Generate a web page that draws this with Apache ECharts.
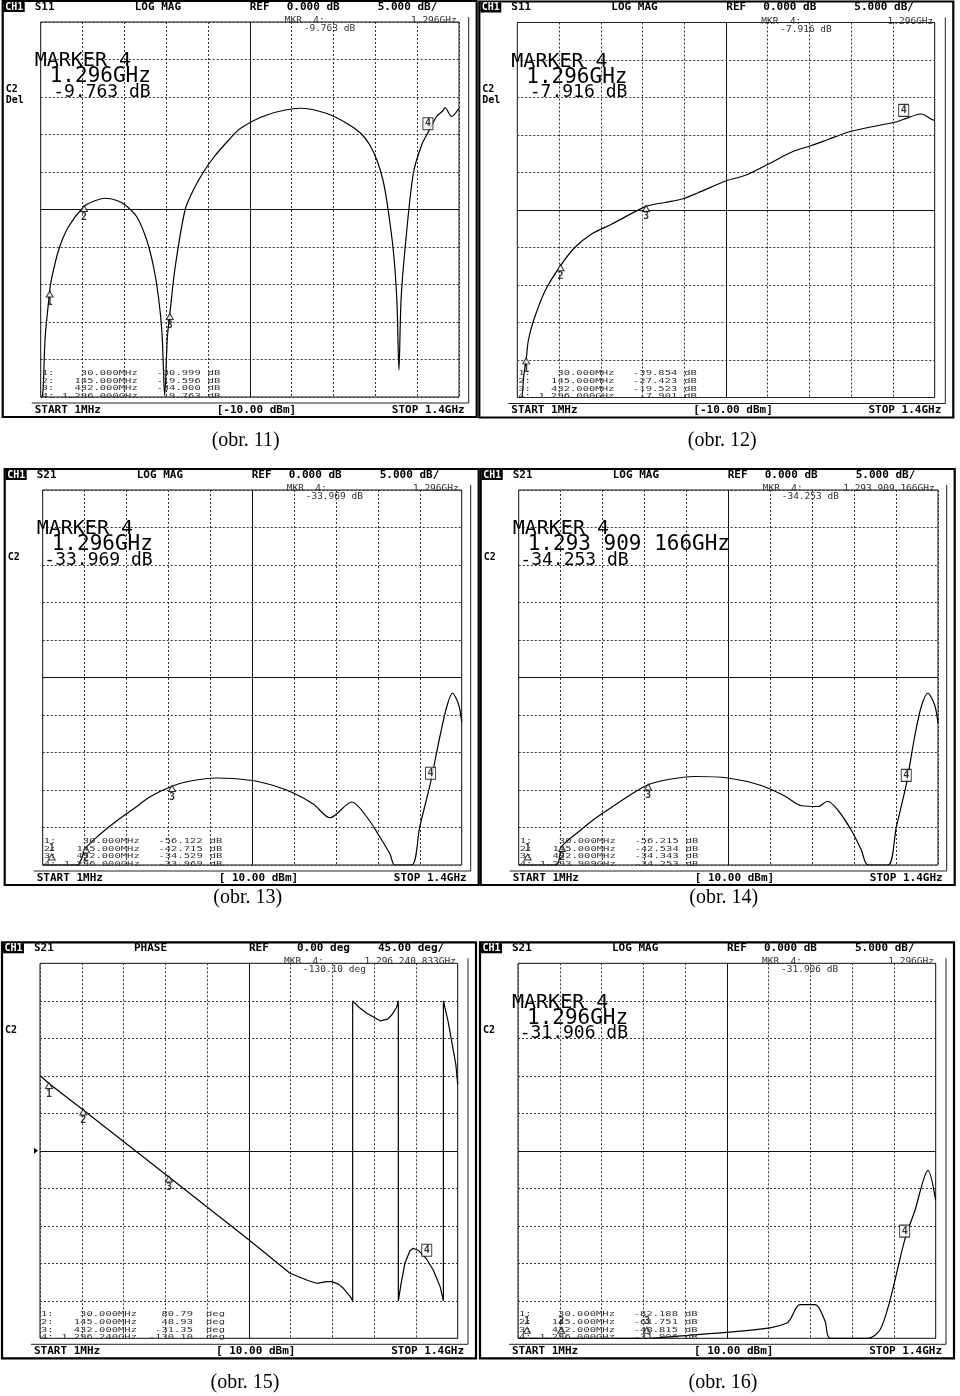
<!DOCTYPE html>
<html><head><meta charset="utf-8">
<script src="https://cdn.jsdelivr.net/npm/echarts@6/dist/echarts.min.js"></script>
<style>html,body{margin:0;padding:0;background:#fff}#c{width:960px;height:1396px}</style>
</head><body><div id="c"></div>
<script>
// ================= DATA (frequency MHz, displayed value) =================
const freqMin = 0, freqMax = 1400, freqStep = 140;
const dbMin = -45, dbMax = 5, dbStep = 5, dbRef = -20;
const degMin = -225, degMax = 225, degStep = 45, degRef = 0;

const obr11Trace = [[1,-46],[8,-44],[15,-37],[30,-31],[35,-29.5],[60,-25.4],[93,-22.3],[145,-19.6],[177,-18.9],[216,-18.5],[255,-18.8],[283,-19.4],[322,-21],[355,-24.1],[378,-27.7],[394,-31.6],[406,-36.5],[415,-44.8],[424,-37],[432,-34],[450,-27.7],[483,-20.1],[511,-17.4],[545,-15],[580,-13],[628,-10.8],[668,-9.2],[757,-7.4],[869,-6.5],[958,-7.2],[1024,-8.5],[1070,-9.8],[1100,-11.3],[1125,-13.4],[1145,-16],[1160,-19.3],[1180,-25.4],[1192,-32.1],[1199,-41.4],[1206,-32.1],[1219,-25.4],[1247,-15.2],[1275,-11.4],[1296,-9.76],[1325,-7.6],[1347,-6.8],[1353,-6.4],[1375,-7.6],[1400,-6.5]];
const obr11Markers = [[30,-30.999],[145,-19.596],[432,-34.000],[1296,-9.763]];

const obr12Trace = [[1,-46],[7,-45],[14,-45],[22,-42],[30,-39.85],[37,-37.4],[54,-34.8],[93,-30.8],[145,-27.42],[193,-25],[249,-23.2],[316,-21.9],[432,-19.52],[495,-19],[556,-18.5],[606,-17.7],[701,-16.1],[763,-15.4],[841,-13.9],[919,-12.3],[986,-11.4],[1042,-10.6],[1120,-9.5],[1266,-8.3],[1296,-7.9],[1355,-7.2],[1389,-7.9],[1400,-8.1]];
const obr12Markers = [[30,-39.854],[145,-27.423],[432,-19.523],[1296,-7.916]];

const obr13Trace = [[1,-45],[30,-45],[114,-45],[145,-42.7],[192,-40.9],[248,-39.1],[304,-37.5],[359,-35.9],[432,-34.5],[493,-33.8],[582,-33.4],[694,-33.7],[771,-34.4],[838,-35.4],[905,-36.9],[960,-38.7],[1033,-36.6],[1083,-38.6],[1127,-41.3],[1160,-43.5],[1177,-45],[1233,-45],[1260,-39.9],[1296,-33.97],[1327,-27.9],[1350,-23.9],[1369,-22.1],[1389,-23.5],[1400,-25.9]];
const obr13Markers = [[30,-56.122],[145,-42.715],[432,-34.529],[1296,-33.969]];

const obr14Trace = [[1,-45],[30,-45],[125,-45],[145,-42.5],[199,-40.6],[255,-38.8],[310,-37.3],[371,-35.7],[432,-34.3],[499,-33.6],[588,-33.2],[699,-33.4],[810,-34.4],[888,-35.8],[944,-37.1],[1000,-37.2],[1031,-36.5],[1066,-37.7],[1111,-40.4],[1144,-43],[1166,-45],[1233,-45],[1261,-39.9],[1294,-34.25],[1322,-27.9],[1344,-23.9],[1366,-22.1],[1389,-23.7],[1400,-26.1]];
const obr14Markers = [[30,-56.215],[145,-42.534],[432,-34.343],[1293.909,-34.253]];

const obr15Trace = [[1,90],[30,80.79],[145,48.93],[432,-31.35],[704,-108],[838,-147],[900,-156],[928,-159],[960,-157],[978,-157],[1000,-160],[1017,-165],[1040,-175],[1048,-180],[1048,180],[1070,172],[1095,165],[1140,156],[1165,158],[1179,163],[1195,172],[1201,180],[1201,-180],[1210,-160],[1223,-135],[1240,-120],[1251,-117],[1270,-120],[1296,-130.1],[1318,-143],[1341,-163],[1352,-180],[1352,180],[1368,155],[1380,131],[1394,103],[1400,80]];
const obr15Markers = [[30,80.79],[145,48.93],[432,-31.35],[1296.24,-130.10]];

const obr16Trace = [[1,-45],[432,-45],[600,-44.5],[700,-44.2],[845,-43.6],[900,-43],[912,-42.5],[945,-40.5],[996,-40.5],[1029,-42.7],[1046,-45],[1173,-45],[1213,-43.9],[1247,-39.9],[1296,-31.9],[1330,-28],[1374,-22.6],[1400,-26.6]];
const obr16Markers = [[30,-82.188],[145,-61.751],[432,-48.815],[1296,-31.906]];

const markerNames = ['1','2','3','4'];
const listFreqs = ['30.000MHz','145.000MHz','432.000MHz'];
const obr11List = ['-30.999','-19.596','-34.000','-9.763'];
const obr12List = ['-39.854','-27.423','-19.523','-7.901'];
const obr13List = ['-56.122','-42.715','-34.529','-33.969'];
const obr14List = ['-56.215','-42.534','-34.343','-34.253'];
const obr15List = ['80.79','48.93','-31.35','-130.10'];
const obr16List = ['-82.188','-61.751','-48.815','-31.906'];

const captions = ['(obr. 11)','(obr. 12)','(obr. 13)','(obr. 14)','(obr. 15)','(obr. 16)'];

// ================= PANEL DESCRIPTIONS =================
const panels = [
 {trace:obr11Trace, markers:obr11Markers, list:obr11List, phase:false, param:'S11', fmt:'LOG MAG', ref:'0.000 dB', scale:'5.000 dB/', mkrF:'1.296GHz', mkrV:'-9.763 dB', big:['MARKER 4','1.296GHz','-9.763 dB'], del:true, power:'[-10.00 dBm]', f4:'1.296 000GHz', unit:'dB'},
 {trace:obr12Trace, markers:obr12Markers, list:obr12List, phase:false, param:'S11', fmt:'LOG MAG', ref:'0.000 dB', scale:'5.000 dB/', mkrF:'1.296GHz', mkrV:'-7.916 dB', big:['MARKER 4','1.296GHz','-7.916 dB'], del:true, power:'[-10.00 dBm]', f4:'1.296 000GHz', unit:'dB'},
 {trace:obr13Trace, markers:obr13Markers, list:obr13List, phase:false, param:'S21', fmt:'LOG MAG', ref:'0.000 dB', scale:'5.000 dB/', mkrF:'1.296GHz', mkrV:'-33.969 dB', big:['MARKER 4','1.296GHz','-33.969 dB'], del:false, power:'[ 10.00 dBm]', f4:'1.296 000GHz', unit:'dB'},
 {trace:obr14Trace, markers:obr14Markers, list:obr14List, phase:false, param:'S21', fmt:'LOG MAG', ref:'0.000 dB', scale:'5.000 dB/', mkrF:'1.293 909 166GHz', mkrV:'-34.253 dB', big:['MARKER 4','1.293 909 166GHz','-34.253 dB'], del:false, power:'[ 10.00 dBm]', f4:'1.293 909GHz', unit:'dB'},
 {trace:obr15Trace, markers:obr15Markers, list:obr15List, phase:true, param:'S21', fmt:'PHASE', ref:'0.00 deg', scale:'45.00 deg/', mkrF:'1.296 240 833GHz', mkrV:'-130.10 deg', big:null, del:false, power:'[ 10.00 dBm]', f4:'1.296 240GHz', unit:'deg'},
 {trace:obr16Trace, markers:obr16Markers, list:obr16List, phase:false, param:'S21', fmt:'LOG MAG', ref:'0.000 dB', scale:'5.000 dB/', mkrF:'1.296GHz', mkrV:'-31.906 dB', big:['MARKER 4','1.296GHz','-31.906 dB'], del:false, power:'[ 10.00 dBm]', f4:'1.296 000GHz', unit:'dB'}
];

// ================= LAYOUT =================
const layout = [
 {gl:40.7, gt:22, gw:418.3, gh:375, cap:441},
 {gl:517.3, gt:22.5, gw:417.4, gh:375, cap:441},
 {gl:42.7, gt:490, gw:419, gh:375, cap:898},
 {gl:518.7, gt:490, gw:419.3, gh:375, cap:898},
 {gl:40, gt:963.3, gw:417.7, gh:375, cap:1383},
 {gl:518, gt:963.3, gw:417.7, gh:375, cap:1383}
];

const MONO = "'DejaVu Sans Mono', monospace";
const SERIF = "'Liberation Serif', 'DejaVu Serif', serif";

function txt(x, y, s, o) {
  o = o || {};
  const font = (o.weight || 'normal') + ' ' + (o.size || 11) + 'px ' + (o.family || MONO);
  return {type:'text', x:x, y:y, silent:true, z:20, scaleY:o.sy || 1, scaleX:o.sx || 1,
    style:{text:s, fill:o.fill || '#000', font:font,
      textAlign:o.align || 'left', align:o.align || 'left',
      textVerticalAlign:'middle', verticalAlign:'middle'}};
}
function ln(x1, y1, x2, y2, w, c) {
  return {type:'line', silent:true, z:15, shape:{x1:x1, y1:y1, x2:x2, y2:y2}, style:{stroke:c || '#000', lineWidth:w || 1}};
}

const grids = [], xAxes = [], yAxes = [], series = [], graphics = [];
const hiddenAxisBits = {axisLabel:{show:false}, axisTick:{show:false}, axisLine:{show:false},
  splitLine:{show:true, lineStyle:{type:[2,2], color:'#333', width:1}}};

panels.forEach((p, i) => {
  const L = layout[i];
  const yMin = p.phase ? degMin : dbMin, yMax = p.phase ? degMax : dbMax;
  const yStep = p.phase ? degStep : dbStep, yRef = p.phase ? degRef : dbRef;
  grids.push({left:L.gl, top:L.gt, width:L.gw, height:L.gh, show:true, borderColor:'#111', borderWidth:1});
  xAxes.push(Object.assign({type:'value', gridIndex:i, min:freqMin, max:freqMax, interval:freqStep}, hiddenAxisBits));
  yAxes.push(Object.assign({type:'value', gridIndex:i, min:yMin, max:yMax, interval:yStep}, hiddenAxisBits));
  series.push({type:'line', xAxisIndex:i, yAxisIndex:i, data:p.trace, showSymbol:false,
    smooth:p.phase ? false : 0.3, clip:true, silent:true, animation:false,
    lineStyle:{color:'#000', width:1.2},
    markLine:{silent:true, symbol:'none', animation:false, label:{show:false},
      lineStyle:{color:'#111', type:'solid', width:1},
      data:[{xAxis:(freqMin + freqMax) / 2}, {yAxis:yRef}]}});
  const clampV = v => Math.max(yMin, Math.min(yMax, v));
  series.push({type:'scatter', xAxisIndex:i, yAxisIndex:i, silent:true, animation:false, z:5,
    data:p.markers.slice(0, 3).map((m, k) => ({name:markerNames[k], value:[m[0], clampV(m[1])],
      symbolOffset: m[1] < yMin ? [0, -8] : [0, 2],
      label: m[1] < yMin ? {position:'top', distance:0} : {position:'bottom', distance:0}})),
    symbol:'triangle', symbolSize:[7, 6],
    itemStyle:{color:'#fff', borderColor:'#000', borderWidth:1},
    label:{show:true, formatter:q => q.name,
      fontFamily:MONO, fontSize:10, fontWeight:'bold', color:'#000'}});
  const m4 = p.markers[3];
  series.push({type:'scatter', xAxisIndex:i, yAxisIndex:i, silent:true, animation:false, z:6,
    data:[{name:markerNames[3], value:[m4[0], clampV(m4[1])]}],
    symbol:'rect', symbolSize:[10, 12], symbolOffset:[0, -9],
    itemStyle:{color:'#fff', borderColor:'#000', borderWidth:1},
    label:{show:true, position:'inside', formatter:q => q.name,
      fontFamily:MONO, fontSize:10, fontWeight:'bold', color:'#000'}});

  const gl = L.gl, gt = L.gt;
  // outer border and inner frame
  graphics.push({type:'rect', silent:true, z:15, shape:{x:gl - 38, y:gt - 21, width:474, height:416},
    style:{fill:'none', stroke:'#000', lineWidth:2.2}});
  graphics.push(ln(gl - 9, gt + 381, gl + 428, gt + 381, 1, '#222'));
  graphics.push(ln(gl + 428, gt - 5, gl + 428, gt + 381, 1, '#222'));
  // header
  graphics.push({type:'rect', silent:true, z:16, shape:{x:gl - 37, y:gt - 20, width:21, height:10}, style:{fill:'#000'}});
  graphics.push(txt(gl - 26.5, gt - 15, 'CH1', {weight:'bold', size:10, fill:'#fff', align:'center'}));
  graphics.push(txt(gl - 6, gt - 15, p.param, {weight:'bold', size:11}));
  graphics.push(txt(gl + 94, gt - 15, p.fmt, {weight:'bold', size:11}));
  graphics.push(txt(gl + 209, gt - 15, 'REF', {weight:'bold', size:11}));
  graphics.push(txt(p.phase ? gl + 257 : gl + 246, gt - 15, p.ref, {weight:'bold', size:11}));
  graphics.push(txt(p.phase ? gl + 338 : gl + 337, gt - 15, p.scale, {weight:'bold', size:11}));
  graphics.push(txt(gl + 244, gt - 1, 'MKR  4:', {size:9.5, fill:'#333', sy:0.85}));
  graphics.push(txt(gl + 416, gt - 1, p.mkrF, {size:9.5, fill:'#333', align:'right', sy:0.85}));
  graphics.push(txt(gl + 263, gt + 7, p.mkrV, {size:9.5, fill:'#333', sy:0.85}));
  // big marker readout
  if (p.big) {
    graphics.push(txt(gl - 6, gt + 39, p.big[0], {size:20}));
    graphics.push(txt(gl + 9, gt + 55, p.big[1], {size:21}));
    graphics.push(txt(gl + 110, gt + 70, p.big[2], {size:18, align:'right'}));
  }
  graphics.push(txt(gl - 35, gt + 67, 'C2', {weight:'bold', size:10}));
  if (p.del) graphics.push(txt(gl - 35, gt + 78, 'Del', {weight:'bold', size:10}));
  if (p.phase) graphics.push({type:'polygon', silent:true, z:16,
    shape:{points:[[gl - 6, gt + L.gh / 2 - 3], [gl - 2, gt + L.gh / 2], [gl - 6, gt + L.gh / 2 + 3]]}, style:{fill:'#000'}});
  // marker list
  const rowsY = [351, 358.7, 366.3, 374];
  for (let k = 0; k < 4; k++) {
    const y = gt + rowsY[k];
    const o = {size:10.5, fill:'#333', sy:0.72};
    graphics.push(txt(gl + 1, y, markerNames[k] + ':', o));
    graphics.push(txt(gl + 97, y, k < 3 ? listFreqs[k] : p.f4, Object.assign({align:'right'}, o)));
    graphics.push(txt(p.phase ? gl + 153 : gl + 160, y, p.list[k], Object.assign({align:'right'}, o)));
    graphics.push(txt(p.phase ? gl + 166 : gl + 167, y, p.unit, o));
  }
  // footer
  graphics.push(txt(gl - 6, gt + 388, 'START 1MHz', {weight:'bold', size:11}));
  graphics.push(txt(gl + 176, gt + 388, p.power, {weight:'bold', size:11}));
  graphics.push(txt(gl + 424, gt + 388, 'STOP 1.4GHz', {weight:'bold', size:11, align:'right'}));
  // caption
  graphics.push(txt(gl + 205, L.cap, captions[i], {family:SERIF, size:20, align:'center'}));
});

const chart = echarts.init(document.getElementById('c'), null, {renderer:'canvas', width:960, height:1396});
chart.setOption({
  backgroundColor:'#fff',
  animation:false,
  grid:grids, xAxis:xAxes, yAxis:yAxes, series:series,
  graphic:{elements:graphics}
});
</script></body></html>
